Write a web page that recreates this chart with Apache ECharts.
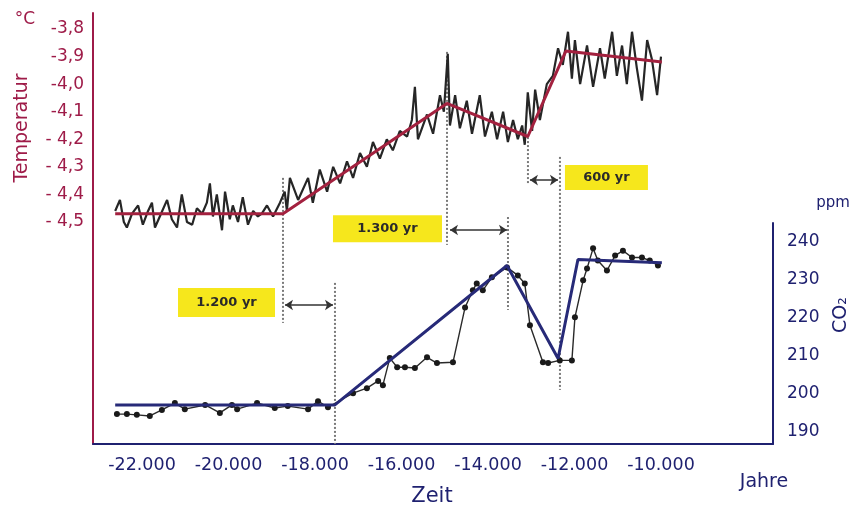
<!DOCTYPE html>
<html>
<head>
<meta charset="utf-8">
<script src="https://cdn.jsdelivr.net/npm/echarts@6/dist/echarts.min.js"></script>
<style>html,body{margin:0;padding:0;background:#fff}#c{width:855px;height:514px}</style>
</head>
<body>
<div id="c"></div>
<script>
// ---------- data ----------
const tempYears = [-22620,-22510,-22420,-22350,-22230,-22090,-21980,-21860,-21770,-21700,-21560,-21420,-21310,-21190,-21080,-20960,-20840,-20730,-20610,-20500,-20430,-20360,-20270,-20150,-20080,-19970,-19900,-19780,-19670,-19550,-19430,-19320,-19230,-19110,-18970,-18810,-18700,-18650,
 -18580,-18390,-18160,-18050,-17890,-17720,-17580,-17420,-17260,-17120,-16960,-16800,-16660,-16500,-16340,-16200,-16040,-15870,-15760,-15690,-15620,-15410,-15270,-15110,-15020,-14930,-14880,
 -14760,-14650,-14490,-14370,-14190,-14070,-13910,-13790,-13650,-13540,-13420,-13310,-13210,-13150,-13080,-12980,-12910,-12800,-12640,-12500,-12380,-12270,-12150,-12060,-11990,-11870,-11710,-11570,-11410,-11300,-11130,-11020,-10900,-10790,-10670,-10560,-10440,-10320,-10210,-10090,-10000];
const tempValues = [-4.46,-4.42,-4.50,-4.52,-4.47,-4.44,-4.51,-4.46,-4.43,-4.52,-4.47,-4.42,-4.49,-4.52,-4.40,-4.50,-4.51,-4.45,-4.47,-4.43,-4.36,-4.48,-4.40,-4.53,-4.39,-4.49,-4.44,-4.50,-4.41,-4.51,-4.46,-4.48,-4.47,-4.44,-4.48,-4.43,-4.39,-4.46,
 -4.34,-4.42,-4.34,-4.43,-4.31,-4.39,-4.30,-4.36,-4.28,-4.34,-4.25,-4.30,-4.21,-4.27,-4.20,-4.24,-4.17,-4.19,-4.13,-4.01,-4.20,-4.11,-4.18,-4.04,-4.10,-3.89,-4.15,
 -4.04,-4.16,-4.06,-4.18,-4.04,-4.19,-4.10,-4.20,-4.10,-4.21,-4.13,-4.20,-4.15,-4.22,-4.03,-4.17,-4.02,-4.13,-4.00,-3.97,-3.87,-3.93,-3.81,-3.98,-3.84,-4.00,-3.86,-4.01,-3.87,-3.98,-3.81,-3.97,-3.86,-4.00,-3.81,-3.94,-4.06,-3.84,-3.91,-4.04,-3.90];

const tempFitYears = [-22620,-18740,-14950,-13080,-12200,-9980];
const tempFitValues = [-4.47,-4.47,-4.07,-4.19,-3.88,-3.92];

const co2Years = [-22580,-22350,-22120,-21820,-21540,-21240,-21010,-20540,-20200,-19920,-19800,-19340,-18930,-18630,-18160,-17930,-17700,-17120,-16800,-16540,-16430,-16270,-16100,-15920,-15690,-15410,-15180,-14810,-14530,-14350,-14260,-14120,-13910,-13560,-13310,-13150,-13030,-12730,-12610,-12340,-12060,-11990,-11800,-11710,-11570,-11460,-11250,-11060,-10880,-10670,-10440,-10260,-10070];
const co2Values = [194.7,194.7,194.5,194.2,195.8,197.6,196.0,197.1,195.0,197.1,196.0,197.6,196.3,196.8,196.0,198.1,196.5,200.2,201.5,203.4,202.3,209.4,207.0,207.0,206.8,209.6,208.1,208.3,222.7,227.2,229.0,227.2,230.6,233.2,231.1,229.0,218.0,208.3,208.1,208.8,208.8,220.1,229.8,232.9,238.2,235.0,232.4,236.3,237.6,235.8,235.8,235.0,233.7];

const co2FitYears = [-22620,-17540,-13560,-12380,-11920,-9980];
const co2FitValues = [197.1,197.1,233.7,209.3,235.3,234.4];

const xTicks = [-22000,-20000,-18000,-16000,-14000,-12000,-10000];
const xTickLabels = ['-22.000','-20.000','-18.000','-16.000','-14.000','-12.000','-10.000'];
const tempTicks = [-3.8,-3.9,-4.0,-4.1,-4.2,-4.3,-4.4,-4.5];
const tempTickLabels = ['-3,8','-3,9','-4,0','-4,1','- 4,2','- 4,3','- 4,4','- 4,5'];
const co2Ticks = [190,200,210,220,230,240];

// annotation lines (year, temperature from, temperature to)
const dottedYears = [-18740,-17538,-14948,-13538,-13076,-12336];
const dottedFrom  = [-4.340,-4.721,-3.883,-4.482,-4.192,-4.264];
const dottedTo    = [-4.866,-5.305,-4.583,-4.819,-4.359,-5.109];

// lag arrows (start year, end year, temperature level)
const arrowStart = [-18694,-14879,-13030];
const arrowEnd   = [-17584,-13561,-12382];
const arrowLevel = [-4.801,-4.529,-4.348];

// lag labels
const lagLabels = ['1.200 yr','1.300 yr','600 yr'];
const lagYears  = [-20046,-16324,-11261];
const lagLevels = [-4.792,-4.525,-4.339];

// ---------- chart ----------
const maroon = '#9e1b48';
const navy = '#1f2170';
const font = 'DejaVu Sans';
const XMIN = -23133, XMAX = -7410;

const chart = echarts.init(document.getElementById('c'), null, {renderer:'canvas'});

const series = [];
dottedYears.forEach((y, i) => {
  series.push({
    type:'line', xAxisIndex:0, yAxisIndex:0, silent:true, symbol:'none', z:1,
    lineStyle:{color:'#7a7a7a', width:2, type:[2,2]},
    data:[[y, dottedFrom[i]],[y, dottedTo[i]]]
  });
});
series.push({
  type:'line', xAxisIndex:0, yAxisIndex:0, symbol:'none', z:2, silent:true,
  lineStyle:{color:'#262626', width:2.2},
  data: tempYears.map((y,i)=>[y,tempValues[i]])
});
series.push({
  type:'line', xAxisIndex:0, yAxisIndex:0, symbol:'none', z:3, silent:true,
  lineStyle:{color:'#a3213f', width:3},
  data: tempFitYears.map((y,i)=>[y,tempFitValues[i]])
});
series.push({
  type:'line', xAxisIndex:1, yAxisIndex:1, symbol:'circle', symbolSize:6, z:2, silent:true,
  lineStyle:{color:'#2a2a2a', width:1.4},
  itemStyle:{color:'#1a1a1a'},
  data: co2Years.map((y,i)=>[y,co2Values[i]])
});
series.push({
  type:'line', xAxisIndex:1, yAxisIndex:1, symbol:'none', z:3, silent:true,
  lineStyle:{color:'#272a78', width:3},
  data: co2FitYears.map((y,i)=>[y,co2FitValues[i]])
});
series.push({
  type:'line', xAxisIndex:0, yAxisIndex:0, data:[], z:5, silent:true,
  markLine:{
    silent:true, symbol:['arrow','arrow'], symbolSize:8, animation:false,
    lineStyle:{color:'#333', width:1.5, type:'solid'},
    label:{show:false},
    data: arrowStart.map((s,i)=>[{coord:[s, arrowLevel[i]]},{coord:[arrowEnd[i], arrowLevel[i]]}])
  },
  markPoint:{
    silent:true, symbol:'rect', animation:false,
    itemStyle:{color:'#f6e71c'},
    label:{show:true, position:'inside', color:'#2a2a2a', fontWeight:'bold', fontSize:13, fontFamily:font, formatter:p=>p.name},
    data: lagLabels.map((t,i)=>({name:t, coord:[lagYears[i], lagLevels[i]], symbolSize: i===0?[97,29]:(i===1?[109,27]:[83,25])}))
  }
});

const option = {
  animation:false,
  backgroundColor:'#fff',
  grid:[
    {left:93, right:82, top:13, bottom:70},
    {left:93, right:82, top:223, bottom:70}
  ],
  xAxis:[
    {gridIndex:0, type:'value', min:XMIN, max:XMAX, show:false},
    {gridIndex:1, type:'value', min:XMIN, max:XMAX,
      axisLine:{show:true, lineStyle:{color:navy, width:2}},
      axisTick:{show:false}, splitLine:{show:false},
      axisLabel:{customValues:xTicks, margin:12, color:navy, fontSize:17.5, fontFamily:font,
        formatter:v=>{const i=xTicks.indexOf(Math.round(v)); return i>=0?xTickLabels[i]:'';}}
    }
  ],
  yAxis:[
    {gridIndex:0, type:'value', min:-5.3053, max:-3.742, position:'left',
      axisLine:{show:true, lineStyle:{color:maroon, width:2}},
      axisTick:{show:false}, splitLine:{show:false},
      axisLabel:{customValues:tempTicks, margin:9, color:maroon, fontSize:17, fontFamily:font,
        formatter:v=>{const i=tempTicks.findIndex(t=>Math.abs(t-v)<1e-6); return i>=0?tempTickLabels[i]:'';}}
    },
    {gridIndex:1, type:'value', min:186.85, max:244.86, position:'right',
      axisLine:{show:true, lineStyle:{color:navy, width:2}},
      axisTick:{show:false}, splitLine:{show:false},
      axisLabel:{customValues:co2Ticks, margin:14, color:navy, fontSize:17, fontFamily:font}
    }
  ],
  graphic:[
    {type:'text', x:25, y:20, style:{text:'°C', fill:maroon, fontSize:17, fontFamily:font, align:'center', verticalAlign:'middle', textAlign:'center', textVerticalAlign:'middle'}},
    {type:'text', x:22, y:128, rotation:Math.PI/2, style:{text:'Temperatur', fill:maroon, fontSize:19, fontFamily:font, align:'center', verticalAlign:'middle', textAlign:'center', textVerticalAlign:'middle'}},
    {type:'text', x:833, y:203, style:{text:'ppm', fill:navy, fontSize:15, fontFamily:font, align:'center', verticalAlign:'middle', textAlign:'center', textVerticalAlign:'middle'}},
    {type:'text', x:841, y:315, rotation:Math.PI/2, style:{text:'CO₂', fill:navy, fontSize:19, fontFamily:font, align:'center', verticalAlign:'middle', textAlign:'center', textVerticalAlign:'middle'}},
    {type:'text', x:432, y:497, style:{text:'Zeit', fill:navy, fontSize:21, fontFamily:font, align:'center', verticalAlign:'middle', textAlign:'center', textVerticalAlign:'middle'}},
    {type:'text', x:764, y:482, style:{text:'Jahre', fill:navy, fontSize:19, fontFamily:font, align:'center', verticalAlign:'middle', textAlign:'center', textVerticalAlign:'middle'}}
  ],
  series: series
};
chart.setOption(option);
</script>
</body>
</html>
